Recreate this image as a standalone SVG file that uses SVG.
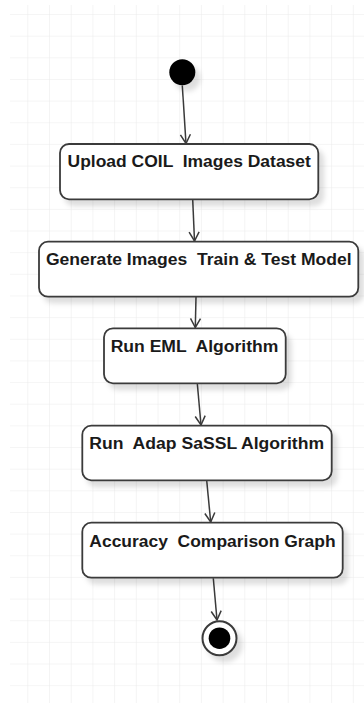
<svg xmlns="http://www.w3.org/2000/svg" width="364" height="703" viewBox="0 0 364 703">
  <style>
    .state rect { fill: #ffffff; stroke: #3a3a3a; stroke-width: 1.8; filter: url(#shadow); }
    .state text { font-family: "Liberation Sans", Arial, sans-serif; font-weight: bold; font-size: 17.4px; fill: #1a1a1a; text-anchor: middle; white-space: pre; }
    .flow { fill: none; stroke: #3a3a3a; stroke-width: 1.5; marker-end: url(#open-arrow); }
  </style>
  <defs>
    <pattern id="grid" x="6.6" y="-6.65" width="21.7" height="21.65" patternUnits="userSpaceOnUse">
      <path d="M21.7 0 V21.65 M0 21.65 H21.7" fill="none" stroke="#ebebeb" stroke-width="1.1"/>
    </pattern>
    <filter id="shadow" x="-20%" y="-30%" width="150%" height="180%">
      <feDropShadow dx="5" dy="6" stdDeviation="2.5" flood-color="#000000" flood-opacity="0.13"/>
    </filter>
    <marker id="open-arrow" viewBox="0 0 12 12" refX="11" refY="6" markerWidth="12" markerHeight="12" markerUnits="userSpaceOnUse" orient="auto">
      <path d="M2 1 L11 6 L2 11" fill="none" stroke="#3a3a3a" stroke-width="1.5"/>
    </marker>
  </defs>

  <!-- background grid -->
  <rect width="364" height="703" fill="#ffffff"/>
  <rect x="10" y="5" width="354" height="698" fill="url(#grid)"/>

  <!-- transitions -->
  <g id="connectors">
    <path class="flow" d="M182.3 85.5 L186 143.5"/>
    <path class="flow" d="M192.7 199.5 L194.5 241"/>
    <path class="flow" d="M196 297 L195.3 327.5"/>
    <path class="flow" d="M197.3 383.5 L201 425"/>
    <path class="flow" d="M206.7 480.5 L210.7 522"/>
    <path class="flow" d="M213.3 578.3 L217 620"/>
  </g>

  <!-- start -->
  <g id="initial">
    <circle cx="182.3" cy="72.3" r="13" fill="#000000" filter="url(#shadow)"/>
  </g>

  <g id="upload-dataset" class="state">
    <rect x="60" y="144" width="258.3" height="55.3" rx="9"/>
    <text x="189.2" y="167.3" textLength="243.3" lengthAdjust="spacingAndGlyphs" xml:space="preserve">Upload COIL  Images Dataset</text>
  </g>

  <g id="generate-train-test" class="state">
    <rect x="39" y="241.7" width="319.3" height="55" rx="9"/>
    <text x="198.8" y="265" textLength="305.7" lengthAdjust="spacingAndGlyphs" xml:space="preserve">Generate Images  Train &amp; Test Model</text>
  </g>

  <g id="run-eml" class="state">
    <rect x="104" y="328.3" width="181.7" height="55" rx="9"/>
    <text x="194.5" y="351.7" textLength="167.6" lengthAdjust="spacingAndGlyphs" xml:space="preserve">Run EML  Algorithm</text>
  </g>

  <g id="run-adap-sassl" class="state">
    <rect x="82.3" y="425.7" width="249.4" height="54.6" rx="9"/>
    <text x="206.7" y="449.3" textLength="234.7" lengthAdjust="spacingAndGlyphs" xml:space="preserve">Run  Adap SaSSL Algorithm</text>
  </g>

  <g id="accuracy-graph" class="state">
    <rect x="82.3" y="522.7" width="260.4" height="55" rx="9"/>
    <text x="212.5" y="546.7" textLength="246.3" lengthAdjust="spacingAndGlyphs" xml:space="preserve">Accuracy  Comparison Graph</text>
  </g>

  <!-- end -->
  <g id="final">
    <circle cx="219.5" cy="638.2" r="17" fill="#ffffff" stroke="#3a3a3a" stroke-width="2" filter="url(#shadow)"/>
    <circle cx="219.5" cy="638.2" r="10.8" fill="#000000"/>
  </g>
</svg>
